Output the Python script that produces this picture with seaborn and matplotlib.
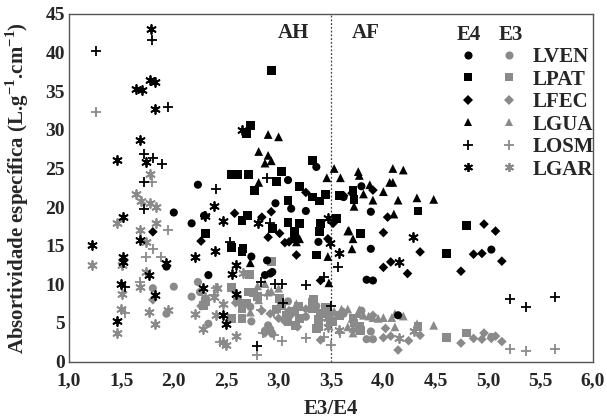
import seaborn as sns
import numpy as np
import pandas as pd
import matplotlib.pyplot as plt
from matplotlib.lines import Line2D
from matplotlib.legend_handler import HandlerTuple
from matplotlib.ticker import FuncFormatter, MultipleLocator

# ---- data (x = E3/E4, y = absortividade) ----
LVEN_E4_X = [2.23, 2.00, 2.17, 2.33, 1.93, 3.09, 3.36, 3.12, 3.26, 2.29, 3.38, 2.74, 2.89,
             2.92, 2.94, 2.87, 3.79, 3.88, 3.88, 3.62, 3.84, 3.90, 4.14, 5.03, 2.97]
LVEN_E4_Y = [22.9, 19.3, 17.9, 11.2, 12.3, 23.5, 25.2, 19.8, 19.5, 18.9, 15.5, 13.6, 13.1,
             11.4, 11.6, 11.2, 22.7, 19.4, 14.6, 21.3, 10.6, 10.5, 6.0, 14.5, 20.5]
LVEN_E3_X = [2.23, 2.00, 1.80, 2.17, 2.33, 2.74, 2.90, 2.73, 3.84, 3.90, 3.88, 3.09, 3.36,
             3.12, 3.26, 3.62, 3.79, 2.92, 2.25, 2.87, 3.38, 5.03, 2.94, 1.93]
LVEN_E3_Y = [10.3, 9.7, 9.5, 8.4, 4.9, 5.2, 4.7, 7.1, 2.9, 2.9, 3.9, 7.8, 7.2,
             6.3, 5.8, 6.2, 6.6, 4.2, 9.0, 4.0, 4.8, 3.2, 3.6, 6.2]

LPAT_E4_X = [2.93, 2.73, 2.69, 2.55, 2.61, 2.71, 3.03, 2.98, 2.77, 3.20, 3.32, 3.32, 3.39,
             3.45, 3.09, 2.70, 2.65, 2.94, 3.09, 3.20, 3.15, 3.40, 3.39, 3.55, 2.30, 2.55,
             2.66, 3.15, 2.65, 3.36, 3.71, 3.58, 3.72, 4.33, 3.78, 4.79, 4.60]
LPAT_E4_Y = [37.7, 30.6, 29.5, 24.2, 24.2, 24.2, 24.6, 23.3, 22.1, 22.7, 26.0, 21.3, 20.8,
             21.6, 20.9, 18.9, 18.3, 17.2, 18.0, 17.9, 16.8, 17.9, 16.8, 18.5, 16.6, 14.8,
             14.6, 15.9, 14.3, 13.8, 22.2, 21.5, 21.0, 19.5, 16.6, 17.6, 14.0]
LPAT_E3_X = [2.55, 2.71, 2.93, 2.72, 2.65, 2.65, 2.55, 2.28, 2.80, 3.01, 3.07, 3.16, 3.19,
             3.33, 3.38, 3.36, 3.52, 3.47, 2.76, 3.32, 3.38, 3.77, 4.33, 4.60, 3.71, 4.79,
             2.61, 2.98, 3.09, 3.20, 3.15, 3.40, 3.58, 3.72, 3.78, 2.69, 3.03, 3.45, 3.32, 2.30]
LPAT_E3_Y = [9.6, 9.0, 13.0, 11.3, 6.9, 5.6, 5.6, 7.3, 8.4, 8.2, 6.0, 4.7, 7.1,
             8.0, 5.4, 4.3, 5.2, 6.4, 8.9, 7.7, 4.5, 4.5, 4.5, 3.1, 5.6, 3.7,
             8.0, 6.8, 5.2, 5.6, 6.5, 6.2, 6.0, 5.0, 4.0, 7.5, 7.2, 7.0, 6.8, 7.8]

LFEC_E4_X = [1.80, 2.26, 3.26, 2.58, 2.84, 2.90, 3.01, 3.47, 3.10, 3.62, 2.93, 3.17, 3.40,
             3.06, 4.04, 4.00, 3.90, 4.35, 4.07, 4.00, 4.23, 4.74, 4.86, 4.96, 5.07, 4.94,
             5.13, 3.70, 3.52]
LFEC_E4_Y = [16.8, 15.6, 21.9, 19.2, 18.7, 16.1, 16.6, 15.9, 15.5, 21.5, 19.4, 13.8, 10.5,
             15.4, 18.7, 16.7, 22.2, 14.2, 12.9, 12.2, 11.4, 11.7, 13.9, 17.8, 16.9, 14.0,
             13.0, 21.8, 17.9]
LFEC_E3_X = [2.59, 2.92, 2.87, 3.13, 3.18, 3.00, 3.40, 4.02, 4.00, 4.07, 4.14, 4.24, 4.35,
             4.74, 4.86, 4.94, 4.96, 5.03, 5.07, 5.13, 1.80, 2.26, 3.26, 2.84, 3.47, 3.62,
             3.90, 3.06, 3.10]
LFEC_E3_Y = [7.6, 6.2, 3.7, 6.2, 4.5, 5.6, 2.8, 4.3, 3.1, 3.3, 1.5, 2.7, 3.4,
             2.4, 3.0, 2.9, 3.7, 3.0, 3.3, 2.6, 8.0, 7.2, 6.8, 6.6, 5.8, 6.4,
             6.0, 5.2, 6.6]

LGUA_E4_X = [2.90, 3.00, 2.81, 2.90, 2.87, 2.93, 2.81, 3.53, 3.46, 3.59, 3.17, 3.66, 2.73,
             3.48, 3.47, 3.76, 3.77, 4.09, 4.19, 4.06, 4.09, 3.87, 4.00, 3.81, 3.90, 4.14,
             4.32, 4.48, 3.72, 4.10, 3.67, 3.71, 3.70, 3.20]
LGUA_E4_Y = [29.4, 29.1, 27.2, 26.7, 25.7, 26.0, 23.2, 25.0, 23.8, 23.8, 15.5, 16.9, 12.8,
             10.2, 13.6, 24.6, 24.1, 25.0, 24.8, 23.2, 23.2, 22.9, 22.0, 21.7, 20.9, 20.9,
             21.2, 21.0, 20.1, 19.1, 17.0, 15.9, 14.6, 15.9]
LGUA_E3_X = [2.87, 2.90, 2.93, 2.80, 2.80, 3.00, 2.81, 3.58, 3.70, 3.71, 3.60, 3.66, 3.77,
             3.86, 3.90, 3.95, 4.00, 4.08, 4.11, 4.19, 3.66, 3.71, 4.11, 4.32, 4.48, 3.50,
             3.46, 3.53, 3.17, 2.73, 3.48, 3.47, 3.76, 3.81]
LGUA_E3_Y = [10.1, 9.0, 9.1, 8.4, 9.8, 9.5, 8.0, 6.2, 5.6, 4.3, 6.8, 6.8, 6.7,
             5.9, 5.7, 5.6, 5.7, 5.7, 6.2, 5.9, 4.5, 3.7, 4.5, 4.9, 4.7, 6.4,
             6.6, 6.5, 7.5, 6.4, 5.2, 5.8, 6.2, 6.0]

LOSM_E4_X = [1.26, 1.79, 1.94, 1.72, 1.80, 1.89, 1.72, 1.72, 2.40, 2.30, 2.89, 2.92, 2.54,
             2.83, 2.97, 3.03, 3.26, 3.04, 3.50, 2.79, 3.43, 3.57, 5.21, 5.36, 5.64, 1.53]
LOSM_E4_Y = [40.2, 41.6, 33.0, 26.9, 26.4, 25.6, 23.2, 19.7, 22.4, 18.9, 23.8, 17.9, 15.5,
             10.3, 10.1, 10.0, 9.9, 7.6, 7.2, 2.0, 11.0, 12.2, 8.1, 7.1, 8.4, 9.7]
LOSM_E3_X = [1.26, 1.79, 1.94, 1.73, 1.80, 1.88, 1.68, 1.53, 2.44, 2.40, 2.38, 2.89, 2.83,
             2.96, 2.85, 2.96, 3.03, 3.26, 3.43, 3.50, 2.79, 3.59, 3.46, 5.21, 5.36, 5.64]
LOSM_E3_Y = [32.3, 23.2, 17.1, 13.5, 14.6, 13.6, 10.3, 6.3, 2.5, 9.5, 8.6, 8.6, 6.7,
             6.3, 3.7, 3.4, 2.7, 3.1, 3.2, 2.1, 0.8, 3.7, 5.4, 1.6, 1.4, 1.6]

LGAR_E4_X = [1.78, 1.77, 1.82, 1.64, 1.70, 1.82, 1.68, 1.46, 1.73, 1.52, 1.22, 1.52, 1.52,
             1.68, 1.76, 1.50, 1.82, 1.46, 1.93, 2.20, 2.39, 2.38, 2.28, 2.30, 2.65, 2.47,
             2.80, 3.47, 3.49, 2.59, 2.56, 2.59, 2.47, 2.50, 3.58, 4.28, 4.15]
LGAR_E4_Y = [43.1, 36.5, 36.2, 35.3, 35.1, 32.7, 28.7, 26.1, 25.8, 18.7, 15.1, 13.6, 12.9,
             15.8, 11.2, 10.1, 8.6, 5.3, 12.8, 13.6, 14.3, 20.1, 9.5, 18.9, 30.0, 18.2,
             17.9, 18.6, 15.3, 12.5, 11.4, 8.8, 6.0, 4.9, 14.1, 16.1, 12.9]
LGAR_E3_X = [1.77, 1.64, 1.69, 1.77, 1.83, 1.46, 1.68, 1.83, 1.73, 1.73, 1.68, 1.51, 1.51,
             1.22, 1.50, 1.76, 1.82, 1.46, 1.94, 2.20, 2.28, 2.40, 2.38, 2.30, 2.41, 2.66,
             2.47, 2.59, 2.47, 2.50, 3.47, 3.47, 3.58, 4.15, 4.29]
LGAR_E3_Y = [24.3, 21.7, 20.8, 20.5, 20.0, 17.9, 17.1, 17.9, 15.5, 11.6, 9.7, 8.8, 12.5,
             12.5, 6.8, 6.4, 4.9, 3.7, 6.7, 6.2, 4.2, 6.0, 8.4, 8.3, 9.5, 11.5,
             7.4, 3.3, 2.6, 2.1, 5.6, 4.5, 4.1, 3.1, 3.9]

GROUPS = ["LVEN", "LPAT", "LFEC", "LGUA", "LOSM", "LGAR"]
SERIES = {
    "LVEN": (LVEN_E4_X, LVEN_E4_Y, LVEN_E3_X, LVEN_E3_Y),
    "LPAT": (LPAT_E4_X, LPAT_E4_Y, LPAT_E3_X, LPAT_E3_Y),
    "LFEC": (LFEC_E4_X, LFEC_E4_Y, LFEC_E3_X, LFEC_E3_Y),
    "LGUA": (LGUA_E4_X, LGUA_E4_Y, LGUA_E3_X, LGUA_E3_Y),
    "LOSM": (LOSM_E4_X, LOSM_E4_Y, LOSM_E3_X, LOSM_E3_Y),
    "LGAR": (LGAR_E4_X, LGAR_E4_Y, LGAR_E3_X, LGAR_E3_Y),
}

rows = []
for g in GROUPS:
    x4, y4, x3, y3 = SERIES[g]
    rows += [(g, "E3", a, b) for a, b in zip(x3, y3)]
    rows += [(g, "E4", a, b) for a, b in zip(x4, y4)]
df = pd.DataFrame(rows, columns=["grupo", "comp", "razao", "abs"])

MARKERS = {"LVEN": "o", "LPAT": "s", "LFEC": "D", "LGUA": "^", "LOSM": "+", "LGAR": (6, 2, 0)}
SIZES = {"LVEN": 34, "LPAT": 40, "LFEC": 24, "LGUA": 40, "LOSM": 48, "LGAR": 42}
COLORS = {"E4": "black", "E3": "#8a8a8a"}

sns.set_theme(style="white")
plt.rcParams["font.family"] = ["Liberation Serif", "DejaVu Serif"]
plt.rcParams["font.weight"] = "bold"
plt.rcParams["mathtext.fontset"] = "custom"
plt.rcParams["mathtext.rm"] = "Liberation Serif:bold"
plt.rcParams["mathtext.bf"] = "Liberation Serif:bold"

fig, ax = plt.subplots(figsize=(6.07, 4.19), dpi=100)
fig.subplots_adjust(left=69 / 607, right=593 / 607, bottom=1 - 361.6 / 419, top=1 - 14 / 419)

for comp in ["E3", "E4"]:
    for g in GROUPS:
        sub = df[(df.grupo == g) & (df.comp == comp)]
        m = MARKERS[g]
        line_art = m in ("+",) or isinstance(m, tuple)
        sns.scatterplot(data=sub, x="razao", y="abs", color=COLORS[comp], marker=m,
                        s=SIZES[g], linewidth=1.3 if line_art else 0,
                        edgecolor=COLORS[comp] if line_art else "none",
                        legend=False, ax=ax, zorder=3)

ax.axvline(3.5, color="#444444", linestyle=(0, (1.5, 1.5)), linewidth=0.9, zorder=2)
ax.text(3.14, 42.6, "AH", ha="center", va="center", fontsize=15, fontweight="bold")
ax.text(3.83, 42.6, "AF", ha="center", va="center", fontsize=15, fontweight="bold")

ax.set_xlim(1.0, 6.0)
ax.set_ylim(0, 45)
ax.xaxis.set_major_locator(MultipleLocator(0.5))
ax.yaxis.set_major_locator(MultipleLocator(5))
ax.xaxis.set_major_formatter(FuncFormatter(lambda v, p: f"{v:.1f}".replace(".", ",")))
ax.yaxis.set_major_formatter(FuncFormatter(lambda v, p: f"{v:.0f}"))
ax.tick_params(direction="in", length=3, width=0.8, color="#555555", labelsize=14)
ax.tick_params(axis="x", pad=8)
ax.tick_params(axis="y", pad=3)
for lab in ax.get_xticklabels() + ax.get_yticklabels():
    lab.set_fontweight("bold")
for sp in ax.spines.values():
    sp.set_color("#555555")
    sp.set_linewidth(1.0)

ax.set_xlabel("E3/E4", fontsize=15, fontweight="bold", labelpad=7)
ax.set_ylabel(r"Absortividade específica (L.g$^{\mathbf{-1}}$.cm$^{\mathbf{-1}}$)",
              fontsize=15, fontweight="bold", labelpad=10)

# legenda: coluna E4 (preto) e E3 (cinza)
handles = []
for g in GROUPS:
    m = MARKERS[g]
    ms = np.sqrt(SIZES[g])
    mew = 1.3 if (m == "+" or isinstance(m, tuple)) else 0
    h4 = Line2D([], [], linestyle="none", marker=m, markersize=ms, color=COLORS["E4"],
                markeredgewidth=mew)
    h3 = Line2D([], [], linestyle="none", marker=m, markersize=ms, color=COLORS["E3"],
                markeredgewidth=mew)
    handles.append((h4, h3))
leg = ax.legend(handles, GROUPS, handler_map={tuple: HandlerTuple(ndivide=None, pad=1.1)},
                loc="upper left", bbox_to_anchor=(0.745, 0.905), frameon=False,
                handlelength=2.8, handletextpad=0.7, labelspacing=0.12, fontsize=15,
                borderaxespad=0, borderpad=0)
for t in leg.get_texts():
    t.set_fontweight("bold")
ax.text(0.763, 0.94, "E4", transform=ax.transAxes, ha="center", va="center",
        fontsize=15, fontweight="bold")
ax.text(0.844, 0.94, "E3", transform=ax.transAxes, ha="center", va="center",
        fontsize=15, fontweight="bold")

plt.savefig("out.png", dpi=100)
